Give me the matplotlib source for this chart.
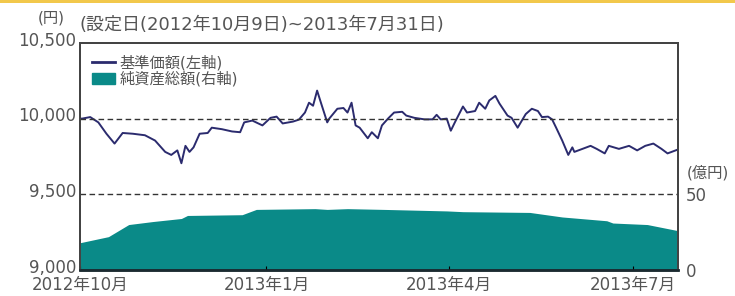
import datetime as dt
import matplotlib.pyplot as plt
from matplotlib.patches import Patch, Rectangle
from matplotlib.lines import Line2D
from matplotlib.transforms import ScaledTranslation

# wide digits from DejaVu, Japanese glyphs from Noto
plt.rcParams['font.family'] = ['DejaVu Sans', 'Noto Sans CJK JP']

start = dt.date(2012, 10, 9)
end = dt.date(2013, 7, 31)

# 基準価額 (days since start, yen)
nav_day = [0, 1, 5, 9, 13, 17, 21, 26, 32, 37, 42, 45, 48, 50, 52, 54, 56, 59, 63, 65,
           70, 75, 79, 81, 85, 90, 94, 97, 100, 105, 108, 111, 113, 115, 117, 119, 122, 123,
           127, 130, 132, 134, 136, 138, 142, 144, 147, 149, 152, 155, 159, 161, 165, 170,
           174, 176, 178, 181, 183, 185, 189, 191, 195, 197, 200, 202, 205, 207, 211, 213,
           216, 220, 223, 226, 228, 231, 233, 235, 238, 241, 243, 244, 248, 252, 255, 259,
           261, 266, 271, 275, 279, 283, 287, 290, 295]
nav_val = [10000, 10000, 10010, 9975, 9900, 9835, 9905, 9900, 9890, 9855, 9780, 9760, 9790,
           9705, 9820, 9780, 9810, 9900, 9905, 9940, 9930, 9915, 9910, 9975, 9987, 9955,
           10005, 10013, 9968, 9980, 9993, 10040, 10105, 10085, 10185, 10100, 9975, 10000,
           10065, 10070, 10040, 10105, 9955, 9940, 9870, 9910, 9870, 9955, 10000, 10040,
           10045, 10020, 10005, 9995, 9995, 10025, 9995, 10000, 9920, 9975, 10080, 10040,
           10050, 10105, 10065, 10120, 10150, 10100, 10020, 10005, 9940, 10030, 10065,
           10050, 10010, 10013, 9995, 9940, 9855, 9760, 9810, 9780, 9800, 9820, 9800, 9770,
           9820, 9800, 9820, 9790, 9820, 9835, 9800, 9770, 9795]

# 純資産総額 (days since start, 億円)
aum_day = [0, 14, 24, 36, 50, 53, 80, 87, 116, 122, 132, 150, 181, 189, 222, 238, 260,
           263, 280, 295]
aum_val = [18, 22, 30, 32, 34, 36, 36.5, 40, 40.5, 40, 40.5, 40, 39, 38.5, 38, 35, 32.5,
           31, 30, 26]

tick_dates = [dt.date(2012, 10, 9), dt.date(2013, 1, 9), dt.date(2013, 4, 9), dt.date(2013, 7, 9)]
tick_labels = ['2012年10月', '2013年1月', '2013年4月', '2013年7月']

nav_x = [start + dt.timedelta(days=d) for d in nav_day]
aum_x = [start + dt.timedelta(days=d) for d in aum_day]

navy = '#2b2b6e'
teal = '#0a8a88'
gray = '#555555'

fig = plt.figure(figsize=(7.35, 2.96), dpi=100)
fig.add_artist(Rectangle((0, 0.99), 1, 0.01, transform=fig.transFigure,
                         color='#f2c84b', lw=0))
ax = fig.add_axes([0.109, 0.088, 0.813, 0.767])
ax2 = ax.twinx()

ax2.fill_between(aum_x, aum_val, 0, color=teal, lw=0)
ax2.set_ylim(0, 150)
ax2.set_yticks([0, 50])
ax2.tick_params(axis='y', length=0, pad=6, labelsize=12, labelcolor=gray)

ax.set_zorder(ax2.get_zorder() + 1)
ax.patch.set_visible(False)
ax.plot(nav_x, nav_val, color=navy, lw=1.4)
for lvl in [10000, 9500]:
    ax.axhline(lvl, color='#333333', lw=1, ls=(0, (4, 2.5)))

ax.set_ylim(9000, 10500)
ax.set_yticks([9000, 9500, 10000, 10500])
ax.set_yticklabels(['9,000', '9,500', '10,000', '10,500'])
ax.set_xlim(start, end)
ax.set_xticks(tick_dates)
ax.set_xticklabels(tick_labels)
ax.tick_params(axis='y', length=0, pad=3, labelsize=12, labelcolor=gray)
ax.tick_params(axis='x', direction='in', length=3, pad=4, labelsize=12, labelcolor=gray)

# left labels sit a little above their grid level
up = ScaledTranslation(0, 3 / 72, fig.dpi_scale_trans)
for lab in ax.get_yticklabels():
    lab.set_transform(lab.get_transform() + up)

for a in (ax, ax2):
    for s in a.spines.values():
        s.set_color('#444444')
        s.set_linewidth(1.4)
    a.spines['bottom'].set_color('#1a2a30')
    a.spines['bottom'].set_linewidth(1.8)

handles = [Line2D([0], [0], color=navy, lw=2), Patch(color=teal)]
ax.legend(handles, ['基準価額(左軸)', '純資産総額(右軸)'], loc='upper left',
          frameon=False, fontsize=11, labelcolor=gray, handlelength=1.5,
          handleheight=0.8, labelspacing=0.05, borderaxespad=0.3, handletextpad=0.3,
          borderpad=0.5)

fig.text(0.051, 0.94, '(円)', fontsize=11, color=gray, ha='left', va='center')
fig.text(0.108, 0.915, '(設定日(2012年10月9日)~2013年7月31日)', fontsize=13,
         color=gray, ha='left', va='center')
fig.text(0.935, 0.415, '(億円)', fontsize=11, color=gray, ha='left', va='center')

fig.savefig('out.png', dpi=100)
